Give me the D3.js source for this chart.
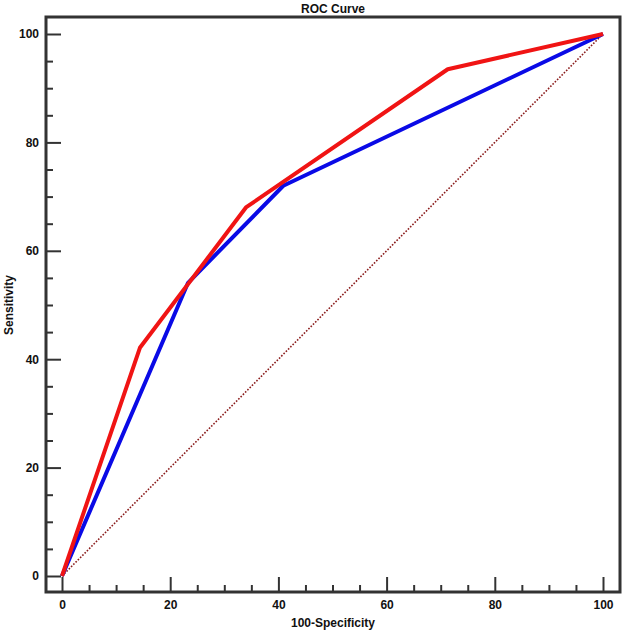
<!DOCTYPE html>
<html>
<head>
<meta charset="utf-8">
<title>ROC Curve</title>
<script src="https://cdn.jsdelivr.net/npm/d3@7"></script>
<style>
  body { margin: 0; background: #fff; }
  text { font-family: "Liberation Sans", Arial, sans-serif; font-weight: bold; fill: #111; }
</style>
</head>
<body>
<svg width="624" height="630"></svg>
<script>
// data (100-Specificity, Sensitivity)
var redX = [0, 14.4, 34.0, 71.3, 100];
var redY = [0, 42.1, 68.0, 93.5, 100];
var blueX = [0, 23.3, 40.9, 100];
var blueY = [0, 54.1, 72.0, 100];
var diagX = [0, 100];
var diagY = [0, 100];
var majorTicks = [0, 20, 40, 60, 80, 100];
var minorTicks = d3.range(0, 101, 5).filter(function(v){ return v % 20 !== 0; });

var svg = d3.select("svg");
var frame = {left: 46, right: 620, top: 17, bottom: 592};

var x = d3.scaleLinear().domain([0, 100]).range([62, 603]);
var y = d3.scaleLinear().domain([0, 100]).range([576, 34]);

function pts(xs, ys) { return xs.map(function(v, i){ return [v, ys[i]]; }); }
var line = d3.line().x(function(d){ return x(d[0]); }).y(function(d){ return y(d[1]); });

// diagonal reference
svg.append("path")
  .datum(pts(diagX, diagY))
  .attr("d", line)
  .attr("fill", "none")
  .attr("stroke", "#8b1c1c")
  .attr("stroke-width", 1.6)
  .attr("stroke-dasharray", "1.6,1.6");

svg.append("path")
  .datum(pts(blueX, blueY))
  .attr("d", line)
  .attr("fill", "none")
  .attr("stroke", "#0a0ae6")
  .attr("stroke-width", 4)
  .attr("stroke-linejoin", "round");

svg.append("path")
  .datum(pts(redX, redY))
  .attr("d", line)
  .attr("fill", "none")
  .attr("stroke", "#f01414")
  .attr("stroke-width", 4)
  .attr("stroke-linejoin", "round");

// axes: ticks point inward from the frame
var xg = svg.append("g").attr("transform", "translate(0," + frame.bottom + ")");
xg.call(d3.axisBottom(x).tickValues(majorTicks).tickSize(-15).tickPadding(8).tickFormat(d3.format("d")));
var xm = svg.append("g").attr("transform", "translate(0," + frame.bottom + ")");
xm.call(d3.axisBottom(x).tickValues(minorTicks).tickSize(-7).tickFormat(""));

var yg = svg.append("g").attr("transform", "translate(" + frame.left + ",0)");
yg.call(d3.axisLeft(y).tickValues(majorTicks).tickSize(-15).tickPadding(7).tickFormat(d3.format("d")));
var ym = svg.append("g").attr("transform", "translate(" + frame.left + ",0)");
ym.call(d3.axisLeft(y).tickValues(minorTicks).tickSize(-7).tickFormat(""));

svg.selectAll(".domain").remove();
svg.selectAll(".tick line").attr("stroke", "#333").attr("stroke-width", 2);
svg.selectAll(".tick text").style("font-size", "12px").style("font-weight", "bold")
  .style("font-family", "'Liberation Sans', Arial, sans-serif").attr("fill", "#111");

// frame
svg.append("rect")
  .attr("x", frame.left).attr("y", frame.top)
  .attr("width", frame.right - frame.left).attr("height", frame.bottom - frame.top)
  .attr("fill", "none").attr("stroke", "#333").attr("stroke-width", 3);

// titles
svg.append("text").attr("x", 333).attr("y", 13).attr("text-anchor", "middle")
  .style("font-size", "12px").text("ROC Curve");
svg.append("text").attr("x", 333).attr("y", 627).attr("text-anchor", "middle")
  .style("font-size", "12px").text("100-Specificity");
svg.append("text").attr("transform", "translate(13,305) rotate(-90)").attr("text-anchor", "middle")
  .style("font-size", "12px").text("Sensitivity");
</script>
</body>
</html>
